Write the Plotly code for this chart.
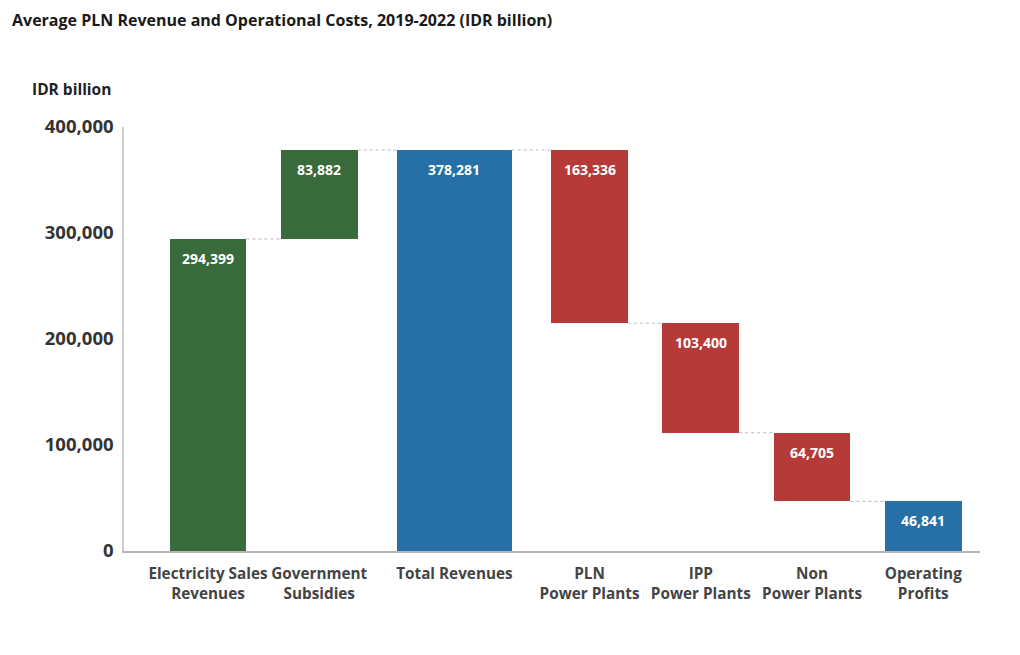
import plotly.graph_objects as go

# ---- data ----
categories = ["Electricity Sales<br>Revenues", "Government<br>Subsidies", "Total Revenues",
              "PLN<br>Power Plants", "IPP<br>Power Plants", "Non<br>Power Plants", "Operating<br>Profits"]
values = [294399, 83882, 378281, 163336, 103400, 64705, 46841]
kinds = ["increase", "increase", "total", "decrease", "decrease", "decrease", "total"]
y_ticks = [0, 100000, 200000, 300000, 400000]

# ---- style ----
colors = {"increase": "#386a3c", "decrease": "#b63b38", "total": "#2770a7"}
slot = [1, 1, 1.43, 1, 1, 1, 1]
bar_w = [0.69, 0.69, 1.03, 0.69, 0.69, 0.69, 0.69]
FONT = "Open Sans"
W, H = 1012, 647  # page body has an 8px margin

# positions from slot widths
xs = []
acc = 0.0
for i, s in enumerate(slot):
    if i > 0:
        acc += (slot[i - 1] + s) / 2
    xs.append(acc)

# running totals -> bases
bases, tops, bottoms = [], [], []
running = 0
for v, k in zip(values, kinds):
    if k == "increase":
        b = running
        running += v
    elif k == "decrease":
        running -= v
        b = running
    else:
        b = 0
        running = v
    bases.append(b)
    tops.append(b + v)
    bottoms.append(b)

fig = go.Figure()
fig.add_trace(go.Bar(
    x=xs, y=values, base=bases, width=bar_w,
    marker=dict(color=[colors[k] for k in kinds], line=dict(width=0)),
    hoverinfo="skip",
))

# labels
for x, t, v in zip(xs, tops, values):
    fig.add_annotation(x=x, y=t, text=f"<b>{v:,}</b>", showarrow=False,
                       yanchor="top", yshift=-8,
                       font=dict(family=FONT, size=14, color="white"))

# connectors
for i in range(len(values) - 1):
    level = bottoms[i] if kinds[i] == "decrease" else tops[i]
    fig.add_shape(type="line", xref="x", yref="y",
                  x0=xs[i] + bar_w[i] / 2, x1=xs[i + 1] - bar_w[i + 1] / 2,
                  y0=level, y1=level,
                  line=dict(color="#bbbbbb", width=1, dash="dot"))

fig.update_layout(
    width=W, height=H,
    margin=dict(l=116, r=40, t=119, b=104),
    paper_bgcolor="white", plot_bgcolor="white",
    showlegend=False,
    bargap=0,
    font=dict(family=FONT, color="#333333"),
    title=dict(text="<b>Average PLN Revenue and Operational Costs, 2019-2022 (IDR billion)</b>",
               x=4 / W, xanchor="left", y=1 - 12 / H, yanchor="middle",
               font=dict(family=FONT, size=16, color="#1a1a1a")),
)
fig.update_xaxes(
    range=[-0.755, xs[-1] + 0.51],
    tickmode="array", tickvals=xs,
    ticktext=[f"<b>{c}</b>" for c in categories],
    tickfont=dict(family=FONT, size=15.3, color="#444444"),
    ticklabelstandoff=8,
    showline=True, linecolor="#b5b5b5", linewidth=1.5,
    ticks="", showgrid=False, zeroline=False,
)
fig.update_yaxes(
    range=[0, 400000],
    tickmode="array", tickvals=y_ticks,
    ticktext=[f"<b>{t:,}</b>" for t in y_ticks],
    tickfont=dict(family=FONT, size=18.5, color="#333333"),
    showline=True, linecolor="#cccccc", linewidth=1.5,
    ticks="outside", ticklen=5, tickcolor="rgba(0,0,0,0)",
    showgrid=False, zeroline=False,
)
fig.add_annotation(text="<b>IDR billion</b>", xref="paper", yref="paper",
                   x=-11 / 856, y=1.0, xanchor="right", yanchor="middle", yshift=38,
                   showarrow=False, font=dict(family=FONT, size=15.5, color="#222222"))

fig.write_html("out.html")
